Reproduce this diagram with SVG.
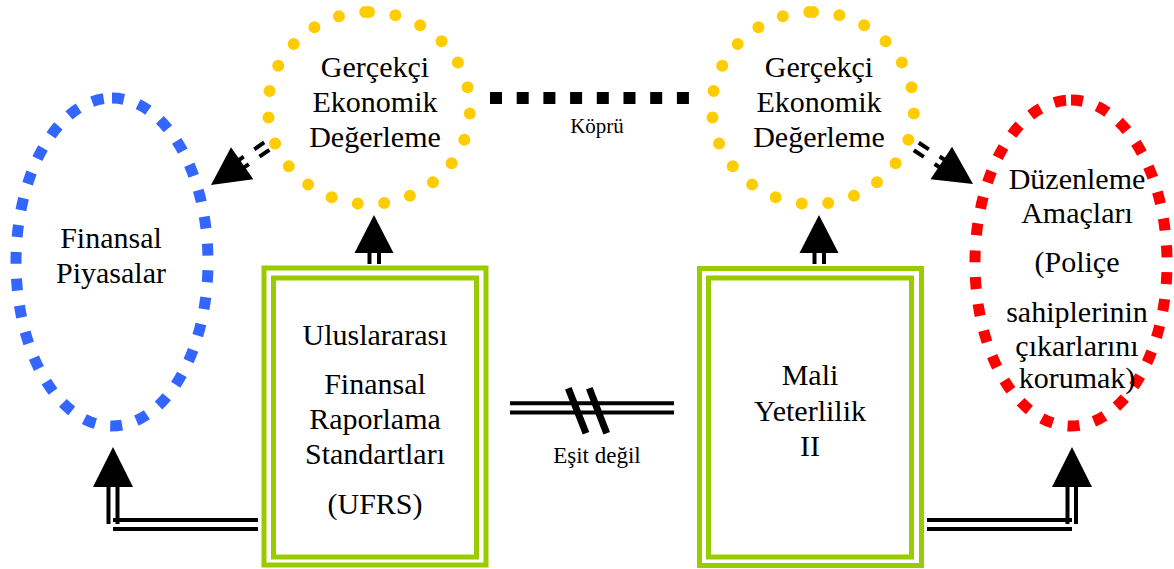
<svg xmlns="http://www.w3.org/2000/svg" width="1174" height="569" viewBox="0 0 1174 569">
  <style>
    .lbl { font-family: "Liberation Serif", "Times New Roman", serif; font-size: 30px; fill: #000; text-anchor: middle; }
    .small { font-family: "Liberation Serif", "Times New Roman", serif; font-size: 21px; fill: #000; text-anchor: middle; }
    .blue { fill: none; stroke: #3366ff; stroke-width: 11; stroke-dasharray: 12 15; }
    .red { fill: none; stroke: #ff0000; stroke-width: 11; stroke-dasharray: 12 15; }
    .gold { fill: none; stroke: #ffcc00; stroke-width: 12; stroke-linecap: round; stroke-dasharray: 0 26.7; }
    .frame { fill: none; stroke: #99cc00; stroke-width: 5; }
    .wire { stroke: #000; stroke-width: 4; fill: none; }
    .head { fill: #000; }
  </style>
  <rect width="1174" height="569" fill="#ffffff"/>

  <!-- Financial markets -->
  <g id="finansal-piyasalar">
    <path class="blue" d="M112,98 A96,164 0 1 1 112,426 A96,164 0 1 1 112,98"/>
    <text class="lbl" x="111" y="248">Finansal</text>
    <text class="lbl" x="111" y="283">Piyasalar</text>
  </g>

  <!-- Realistic economic valuation (left) -->
  <g id="gercekci-sol">
    <path class="gold" d="M369,12 A101,96 0 1 1 369,204 A101,96 0 1 1 369,12"/>
    <text class="lbl" x="375" y="77">Gerçekçi</text>
    <text class="lbl" x="375" y="112">Ekonomik</text>
    <text class="lbl" x="375" y="147">Değerleme</text>
  </g>

  <!-- Realistic economic valuation (right) -->
  <g id="gercekci-sag">
    <path class="gold" d="M813,12 A101,96 0 1 1 813,204 A101,96 0 1 1 813,12"/>
    <text class="lbl" x="819" y="77">Gerçekçi</text>
    <text class="lbl" x="819" y="112">Ekonomik</text>
    <text class="lbl" x="819" y="147">Değerleme</text>
  </g>

  <!-- Regulatory objectives -->
  <g id="duzenleme-amaclari">
    <path class="red" d="M1071,100 A96,163 0 1 1 1071,426 A96,163 0 1 1 1071,100"/>
    <text class="lbl" x="1077" y="189">Düzenleme</text>
    <text class="lbl" x="1077" y="223">Amaçları</text>
    <text class="lbl" x="1077" y="272">(Poliçe</text>
    <text class="lbl" x="1077" y="322">sahiplerinin</text>
    <text class="lbl" x="1077" y="356">çıkarlarını</text>
    <text class="lbl" x="1077" y="388">korumak)</text>
  </g>

  <!-- IFRS -->
  <g id="ufrs">
    <rect class="frame" x="264" y="268" width="222" height="297"/>
    <rect class="frame" x="273.5" y="278" width="203" height="279" stroke-width="4.5"/>
    <text class="lbl" x="375" y="345">Uluslararası</text>
    <text class="lbl" x="375" y="394">Finansal</text>
    <text class="lbl" x="375" y="429">Raporlama</text>
    <text class="lbl" x="375" y="464">Standartları</text>
    <text class="lbl" x="375" y="514">(UFRS)</text>
  </g>

  <!-- Solvency II -->
  <g id="mali-yeterlilik">
    <rect class="frame" x="699.5" y="268.5" width="222" height="297"/>
    <rect class="frame" x="708.5" y="278" width="203" height="279" stroke-width="4.5"/>
    <text class="lbl" x="810" y="385">Mali</text>
    <text class="lbl" x="810" y="421">Yeterlilik</text>
    <text class="lbl" x="810" y="456">II</text>
  </g>

  <g id="connectors">
    <!-- bridge between the two valuations -->
    <line x1="490" y1="98" x2="689" y2="98" stroke="#000" stroke-width="12" stroke-dasharray="12 14.7"/>
    <text class="small" x="597" y="133">Köprü</text>

    <!-- not-equal mark between the frameworks -->
    <line class="wire" x1="510" y1="403.3" x2="674" y2="403.3"/>
    <line class="wire" x1="510" y1="412.5" x2="674" y2="412.5"/>
    <line x1="568.3" y1="388.3" x2="586" y2="433.3" stroke="#000" stroke-width="7"/>
    <line x1="589.3" y1="388.3" x2="606.7" y2="433.3" stroke="#000" stroke-width="7"/>
    <text class="small" x="597" y="463" style="font-size:23px">Eşit değil</text>

    <!-- IFRS -> valuation -->
    <g id="c-ufrs-gercekci">
      <line class="wire" x1="369.5" y1="250" x2="369.5" y2="264"/>
      <line class="wire" x1="379" y1="250" x2="379" y2="264"/>
      <path class="head" d="M374,215 L393.5,253 L354.5,253 Z"/>
    </g>

    <!-- Solvency II -> valuation -->
    <g id="c-mali-gercekci">
      <line class="wire" x1="814.5" y1="250" x2="814.5" y2="264"/>
      <line class="wire" x1="824" y1="250" x2="824" y2="264"/>
      <path class="head" d="M819,215 L838.5,253 L799.5,253 Z"/>
    </g>

    <!-- valuation -> financial markets -->
    <g id="c-gercekci-piyasa" transform="translate(211,185) rotate(-34.9)">
      <path class="head" d="M0,0 L38,-19.5 L38,19.5 Z"/>
      <line class="wire" x1="32" y1="-4.5" x2="43" y2="-4.5"/>
      <line class="wire" x1="32" y1="4.5" x2="43" y2="4.5"/>
      <line class="wire" x1="56" y1="-4.5" x2="68" y2="-4.5"/>
      <line class="wire" x1="56" y1="4.5" x2="68" y2="4.5"/>
    </g>

    <!-- valuation -> regulatory objectives -->
    <g id="c-gercekci-duzenleme" transform="translate(973,184) rotate(-146.5)">
      <path class="head" d="M0,0 L38,-19.5 L38,19.5 Z"/>
      <line class="wire" x1="32" y1="-4.5" x2="43" y2="-4.5"/>
      <line class="wire" x1="32" y1="4.5" x2="43" y2="4.5"/>
      <line class="wire" x1="56" y1="-4.5" x2="68" y2="-4.5"/>
      <line class="wire" x1="56" y1="4.5" x2="68" y2="4.5"/>
    </g>

    <!-- IFRS -> financial markets -->
    <g id="c-ufrs-piyasa">
      <line class="wire" x1="258" y1="520" x2="113" y2="520"/>
      <line class="wire" x1="258" y1="529" x2="113" y2="529"/>
      <line class="wire" x1="108.5" y1="524" x2="108.5" y2="484"/>
      <line class="wire" x1="117.5" y1="524" x2="117.5" y2="484"/>
      <path class="head" d="M113,447 L133,487 L93,487 Z"/>
    </g>

    <!-- Solvency II -> regulatory objectives -->
    <g id="c-mali-duzenleme">
      <line class="wire" x1="927" y1="520" x2="1072" y2="520"/>
      <line class="wire" x1="927" y1="529" x2="1072" y2="529"/>
      <line class="wire" x1="1067.5" y1="524" x2="1067.5" y2="484"/>
      <line class="wire" x1="1076" y1="524" x2="1076" y2="484"/>
      <path class="head" d="M1072,447 L1092,487 L1052,487 Z"/>
    </g>
  </g>
</svg>
